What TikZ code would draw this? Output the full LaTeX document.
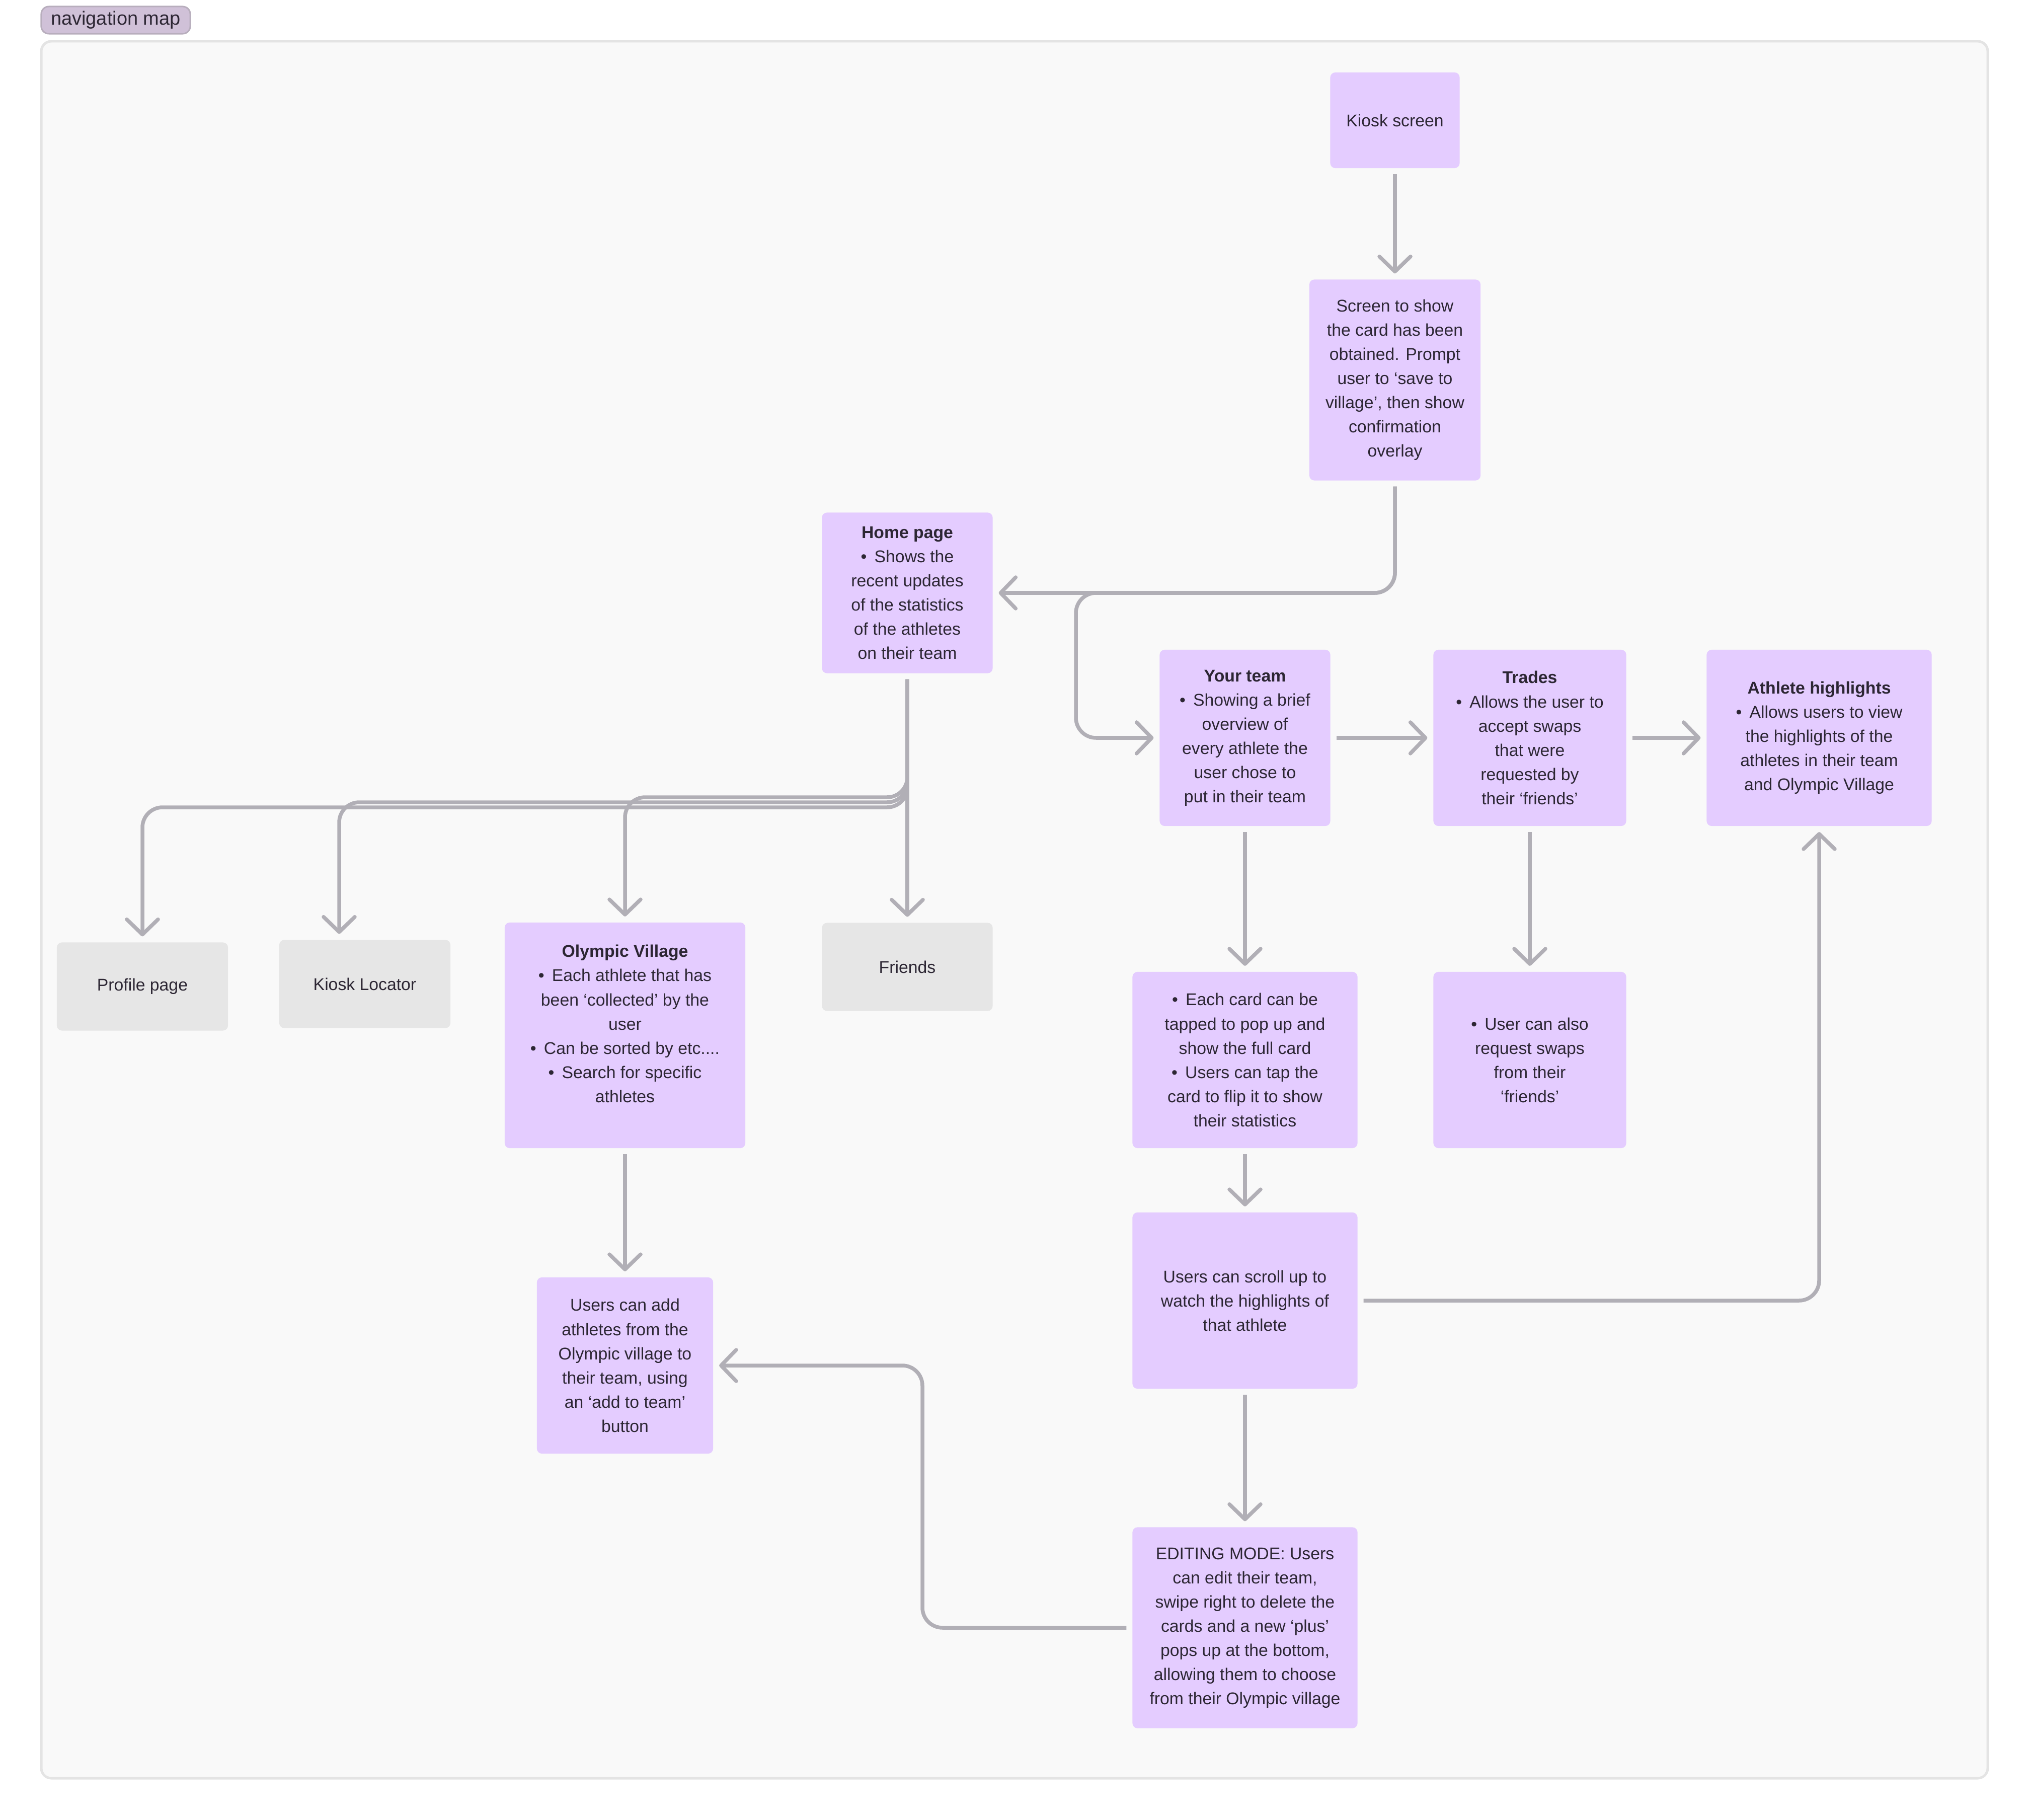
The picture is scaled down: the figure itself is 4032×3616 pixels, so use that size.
\documentclass[tikz,border=0pt]{standalone}
\usepackage{fontspec}
\setmainfont{Liberation Sans}
\usetikzlibrary{arrows.meta}
\definecolor{boxpurple}{RGB}{228,204,255}
\definecolor{boxgray}{RGB}{230,230,230}
\definecolor{bgfill}{RGB}{249,249,249}
\definecolor{bgline}{RGB}{228,228,228}
\definecolor{conn}{RGB}{177,175,182}
\definecolor{ink}{RGB}{44,38,51}
\definecolor{tagfill}{RGB}{208,193,216}
\definecolor{tagline}{RGB}{184,174,189}
\newcommand{\bul}{\textbullet\hspace{0.45em}}
\begin{document}
\begin{tikzpicture}[x=0.01cm,y=-0.01cm,
  pbox/.style={rectangle, rounded corners=0.1cm, fill=boxpurple, text=ink, align=center,
    inner sep=0pt, outer sep=0.12cm, font=\fontsize{9.6}{13.66}\selectfont},
  gbox/.style={pbox, fill=boxgray},
  link/.style={draw=conn, line width=0.075cm, rounded corners=0.4cm,
    -{Straight Barb[length=0.3cm,width=0.62cm,round]}}]
\useasboundingbox (0,0) rectangle (4032,3616);
\path[draw=bgline, fill=bgfill, line width=0.05cm, rounded corners=0.2cm] (82,82) rectangle (3950,3533);
\node[rectangle, rounded corners=0.15cm, fill=tagfill, draw=tagline, line width=0.03cm,
  text=ink, minimum width=2.96cm, minimum height=0.54cm, inner sep=0pt,
  font=\fontsize{10.8}{13}\selectfont] (tag) at (230,40) {navigation map};

\node[pbox, minimum width=2.57cm, minimum height=1.90cm] (kiosk) at (2772,239) {Kiosk screen};
\node[pbox, minimum width=3.40cm, minimum height=3.99cm] (screen) at (2772,755)
  {Screen to show\\the card has been\\obtained. Prompt\\user to ‘save to\\village’, then show\\confirmation\\overlay};
\node[pbox, minimum width=3.39cm, minimum height=3.19cm] (home) at (1803,1178)
  {\textbf{Home page}\\\bul Shows the\\recent updates\\of the statistics\\of the athletes\\on their team};
\node[pbox, minimum width=3.39cm, minimum height=3.50cm] (team) at (2474,1466)
  {\textbf{Your team}\\\bul Showing a brief\\overview of\\every athlete the\\user chose to\\put in their team};
\node[pbox, minimum width=3.83cm, minimum height=3.50cm] (trades) at (3040,1466)
  {\textbf{Trades}\\\bul Allows the user to\\accept swaps\\that were\\requested by\\their ‘friends’};
\node[pbox, minimum width=4.47cm, minimum height=3.50cm] (highlights) at (3615,1466)
  {\textbf{Athlete highlights}\\\bul Allows users to view\\the highlights of the\\athletes in their team\\and Olympic Village};
\node[gbox, minimum width=3.40cm, minimum height=1.75cm] (profile) at (283,1960) {Profile page};
\node[gbox, minimum width=3.40cm, minimum height=1.75cm] (locator) at (725,1955) {Kiosk Locator};
\node[pbox, minimum width=4.78cm, minimum height=4.48cm] (village) at (1242,2057) {};
\node[text=ink, align=center, inner sep=0pt, font=\fontsize{9.6}{13.66}\selectfont] (villagetext) at (1242,2034)
  {\textbf{Olympic Village}\\\bul Each athlete that has\\been ‘collected’ by the\\user\\\bul Can be sorted by etc....\\\bul Search for specific\\athletes};
\node[gbox, minimum width=3.39cm, minimum height=1.75cm] (friends) at (1803,1921) {Friends};
\node[pbox, minimum width=4.47cm, minimum height=3.50cm] (cardnode) at (2474,2106)
  {\bul Each card can be\\tapped to pop up and\\show the full card\\\bul Users can tap the\\card to flip it to show\\their statistics};
\node[pbox, minimum width=3.83cm, minimum height=3.50cm] (also) at (3040,2106)
  {\bul User can also\\request swaps\\from their\\‘friends’};
\node[pbox, minimum width=4.47cm, minimum height=3.50cm] (scroll) at (2474,2584)
  {Users can scroll up to\\watch the highlights of\\that athlete};
\node[pbox, minimum width=3.50cm, minimum height=3.50cm] (add) at (1242,2713)
  {Users can add\\athletes from the\\Olympic village to\\their team, using\\an ‘add to team’\\button};
\node[pbox, minimum width=4.47cm, minimum height=3.99cm] (edit) at (2474,3234)
  {EDITING MODE: Users\\can edit their team,\\swipe right to delete the\\cards and a new ‘plus’\\pops up at the bottom,\\allowing them to choose\\from their Olympic village};

\draw[link] (kiosk) -- (screen);
\draw[link] (screen.south) |- (home.east);
\draw[link] (screen.south) -- (2772,1178) -- (2138,1178) -- (2138,1466) -- (team.west);
\draw[link] (team) -- (trades);
\draw[link] (trades) -- (highlights);
\draw[link] (team) -- (cardnode);
\draw[link] (trades) -- (also);
\draw[link] (cardnode) -- (scroll);
\draw[link] (scroll.east) -| (highlights.south);
\draw[link] (scroll) -- (edit);
\draw[link] (edit.west) -- (1833,3234) -- (1833,2713) -- (add.east);
\draw[link] (village) -- (add);
\draw[link] (home) -- (friends);
\draw[link] (home.south) |- (1242,1584) -- (village.north);
\draw[link] (home.south) |- (674,1594) -- (674,0 |- locator.north);
\draw[link] (home.south) |- (283,1604) -- (profile.north);
\end{tikzpicture}
\end{document}
